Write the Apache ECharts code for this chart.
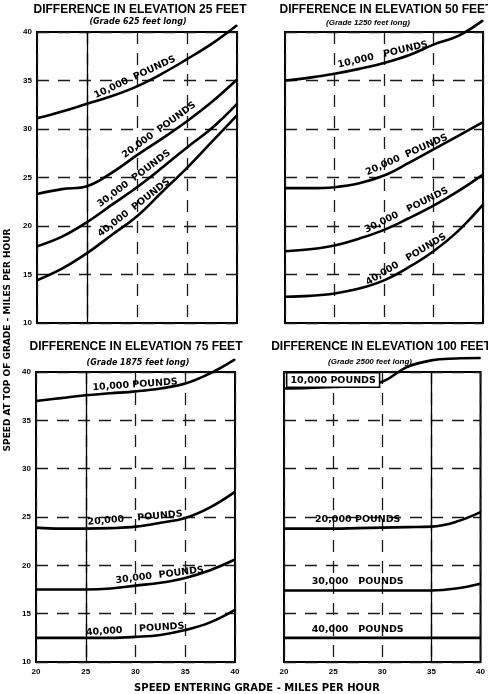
<!DOCTYPE html>
<html>
<head>
<meta charset="utf-8">
<script src="https://cdn.jsdelivr.net/npm/echarts@6/dist/echarts.min.js"></script>
<style>
  html, body { margin: 0; padding: 0; background: #fff; }
  #chart { width: 488px; height: 694px; }
</style>
</head>
<body>
<div id="chart"></div>
<script>
// Speed entering the grade (mph) at which each curve is sampled
const speedEntering = [20, 22.5, 25, 27.5, 30, 32.5, 35, 37.5, 40];

// Gross loads and the four grade cases
const loadLabels = ['10,000', '20,000', '30,000', '40,000'];
const elevationFeet = [25, 50, 75, 100];
const gradeLengthFeet = [625, 1250, 1875, 2500];

// Speed at top of grade (mph) — 25 ft rise
const rise25_10k = [31.1, 31.8, 32.6, 33.4, 34.4, 35.7, 37.2, 38.8, 40.7];
const rise25_20k = [23.3, 23.8, 24.1, 25.5, 27.3, 29.0, 30.8, 32.8, 35.1];
const rise25_30k = [17.9, 18.9, 20.4, 22.2, 24.0, 26.0, 28.1, 30.1, 32.6];
const rise25_40k = [14.4, 15.6, 17.2, 19.1, 21.0, 23.5, 26.0, 28.7, 31.4];

// 50 ft rise
const rise50_10k = [35.0, 35.3, 35.7, 36.2, 36.8, 37.6, 38.7, 39.6, 41.2];
const rise50_20k = [23.9, 23.9, 24.0, 24.4, 25.2, 26.5, 27.9, 29.3, 30.7];
const rise50_30k = [17.4, 17.6, 18.0, 18.7, 19.6, 20.8, 22.1, 23.6, 25.3];
const rise50_40k = [12.7, 12.8, 13.05, 13.55, 14.4, 15.75, 17.4, 19.5, 22.2];

// 75 ft rise
const rise75_10k = [37.0, 37.3, 37.6, 37.8, 38.0, 38.3, 38.8, 39.85, 41.3];
const rise75_20k = [23.9, 23.8, 23.8, 23.85, 24.0, 24.4, 24.9, 26.0, 27.6];
const rise75_30k = [17.5, 17.5, 17.5, 17.6, 17.9, 18.2, 18.7, 19.5, 20.6];
const rise75_40k = [12.5, 12.5, 12.5, 12.5, 12.6, 12.8, 13.3, 14.1, 15.4];

// 100 ft rise
const rise100_10k = [38.3, 38.35, 38.45, 38.6, 39.0, 40.5, 41.2, 41.4, 41.45];
const rise100_20k = [23.8, 23.8, 23.8, 23.85, 23.9, 23.95, 24.0, 24.5, 25.5];
const rise100_30k = [17.4, 17.4, 17.4, 17.4, 17.4, 17.4, 17.4, 17.6, 18.1];
const rise100_40k = [12.5, 12.5, 12.5, 12.5, 12.5, 12.5, 12.5, 12.5, 12.5];

const panelCurves = [
  [rise25_10k, rise25_20k, rise25_30k, rise25_40k],
  [rise50_10k, rise50_20k, rise50_30k, rise50_40k],
  [rise75_10k, rise75_20k, rise75_30k, rise75_40k],
  [rise100_10k, rise100_20k, rise100_30k, rise100_40k]
];

// entering speeds ruled as a full-height solid line in each panel
const solidRules = [[25], [], [25], [35]];

// ---- layout & styling ----
const grids = [
  { left: 37,  top: 32,  width: 200, height: 291 },
  { left: 285, top: 32,  width: 198, height: 291 },
  { left: 36,  top: 372, width: 199, height: 290 },
  { left: 284, top: 372, width: 197, height: 290 }
];

// where each curve's caption sits: sample index, tilt (deg), gap between number and word, lift
const captionStyle = [
  [{ i: 4, r: 25, gap: 2, d: 4 }, { i: 5, r: 36, gap: 2, d: 4 }, { i: 4, r: 37, gap: 2, d: 4 }, { i: 4, r: 38, gap: 2, d: 4 }],
  [{ i: 4, r: 13, gap: 3, d: 3 }, { i: 5, r: 24, gap: 2, d: 3 }, { i: 5, r: 26, gap: 3, d: 3 }, { i: 5, r: 31, gap: 3, d: 3 }],
  [{ i: 4, r: 4, gap: 1, d: 1 }, { i: 4, r: 5, gap: 4, d: 3 }, { i: 5, r: 7, gap: 2, d: 2 }, { i: 4, r: 4, gap: 5, d: 2 }],
  [{ i: 2, r: 0, gap: 1, d: 0, boxed: true }, { i: 3, r: 0, gap: 1, d: 3 }, { i: 3, r: 0, gap: 3, d: 3 }, { i: 3, r: 0, gap: 3, d: 3 }]
];

const ink = '#000';
const gridDash = { color: '#1a1a1a', width: 1.3, type: [12, 9] };
const tickFont = { fontFamily: 'Liberation Sans', fontWeight: 'bold', fontSize: 8, color: ink };

const xAxes = grids.map((g, p) => ({
  type: 'value', gridIndex: p, min: 20, max: 40, interval: 5,
  axisLine: { show: false }, axisTick: { show: false },
  axisLabel: Object.assign({ show: p >= 2, margin: 6 }, tickFont),
  splitLine: { show: true, lineStyle: gridDash }
}));
const yAxes = grids.map((g, p) => ({
  type: 'value', gridIndex: p, min: 10, max: 40, interval: 5,
  axisLine: { show: false }, axisTick: { show: false },
  axisLabel: Object.assign({ show: p % 2 === 0, margin: 5 }, tickFont),
  splitLine: { show: true, lineStyle: gridDash }
}));

const series = [];
panelCurves.forEach((curves, p) => {
  curves.forEach((ys, k) => {
    const cap = captionStyle[p][k];
    const caption = loadLabels[k] + ' '.repeat(cap.gap) + 'POUNDS';
    const data = speedEntering.map((x, j) => {
      if (j !== cap.i) return [x, ys[j]];
      const label = {
        show: true, formatter: caption, position: 'top',
        distance: cap.d, rotate: cap.r,
        fontFamily: 'DejaVu Sans', fontWeight: 'bold', fontSize: 9.5, color: ink
      };
      if (cap.boxed) {
        Object.assign(label, {
          backgroundColor: '#fff', borderColor: ink, borderWidth: 1.5,
          padding: [2, 3, 1, 3]
        });
      }
      return { value: [x, ys[j]], label };
    });
    const s = {
      type: 'line', xAxisIndex: p, yAxisIndex: p, data,
      smooth: 0.4, clip: false,
      symbol: 'circle', symbolSize: 1, showSymbol: true,
      itemStyle: { color: ink },
      lineStyle: { color: ink, width: 2.6 },
      label: { show: false },
      emphasis: { disabled: true }, silent: true, z: 3
    };
    if (k === 0 && solidRules[p].length) {
      s.markLine = {
        silent: true, symbol: 'none', animation: false, z: 2,
        label: { show: false },
        lineStyle: { color: ink, width: 1.3, type: 'solid' },
        data: solidRules[p].map(v => ({ xAxis: v }))
      };
    }
    series.push(s);
  });
});

// panel headings
const titleFont = 'bold 12px "Liberation Sans"';
const headingPos = [[140, 10], [386, 10], [136, 347], [381, 347]];
const subPos = [[138, 22], [368, 23], [138, 363], [370, 362]];
const subFont = ['italic bold 8px "DejaVu Sans"', 'italic bold 8px "Liberation Sans"',
                 'italic bold 8px "DejaVu Sans"', 'italic bold 8px "Liberation Sans"'];

const graphics = [];
elevationFeet.forEach((ft, p) => {
  graphics.push({
    type: 'text', x: headingPos[p][0], y: headingPos[p][1], silent: true,
    style: { text: 'DIFFERENCE IN ELEVATION ' + ft + ' FEET', font: titleFont,
             fill: ink, align: 'center', verticalAlign: 'middle' }
  });
  graphics.push({
    type: 'text', x: subPos[p][0], y: subPos[p][1], silent: true,
    style: { text: '(Grade ' + gradeLengthFeet[p] + ' feet long)', font: subFont[p],
             fill: ink, align: 'center', verticalAlign: 'middle' }
  });
});
graphics.push({
  type: 'text', x: 8, y: 340, rotation: Math.PI / 2, silent: true,
  style: { text: 'SPEED AT TOP OF GRADE - MILES PER HOUR', font: 'bold 9px "DejaVu Sans"',
           fill: ink, align: 'center', verticalAlign: 'middle' }
});
graphics.push({
  type: 'text', x: 257, y: 688, silent: true,
  style: { text: 'SPEED ENTERING GRADE - MILES PER HOUR', font: 'bold 10px "DejaVu Sans"',
           fill: ink, align: 'center', verticalAlign: 'middle' }
});

const chart = echarts.init(document.getElementById('chart'), null, { renderer: 'canvas' });
chart.setOption({
  backgroundColor: '#fff',
  animation: false,
  grid: grids.map(g => Object.assign({ show: true, borderColor: ink, borderWidth: 2,
                                       backgroundColor: 'transparent', containLabel: false }, g)),
  xAxis: xAxes,
  yAxis: yAxes,
  series,
  graphic: graphics
});
</script>
</body>
</html>
